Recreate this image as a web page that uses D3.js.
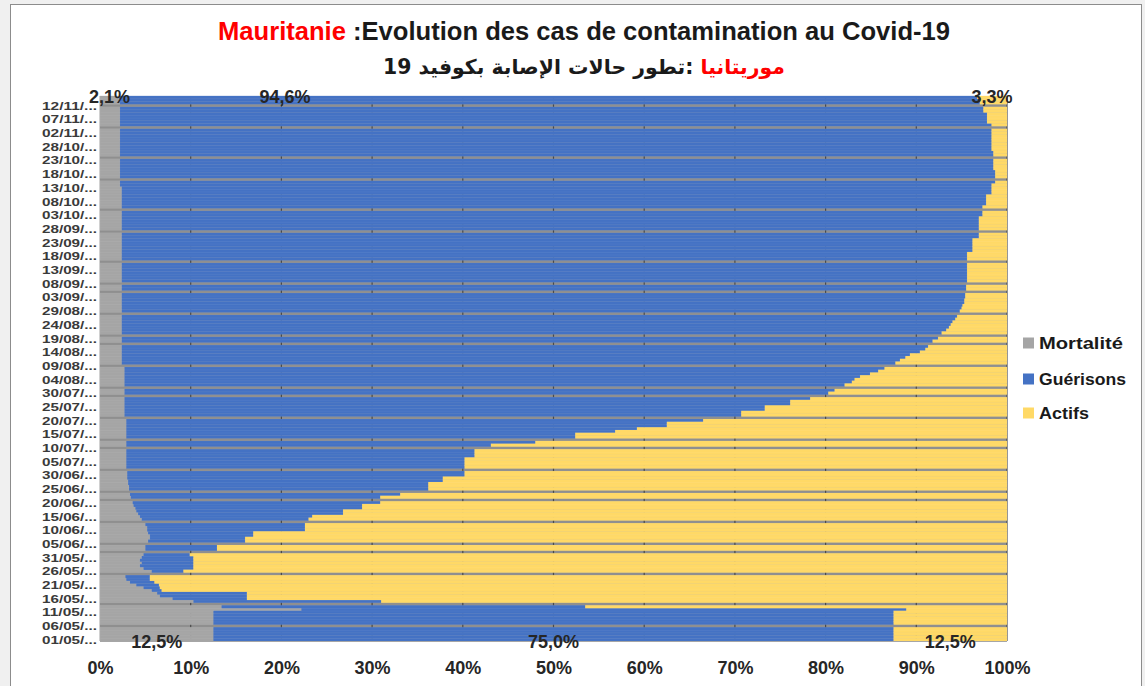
<!DOCTYPE html>
<html>
<head>
<meta charset="utf-8">
<script src="https://cdn.jsdelivr.net/npm/d3@7"></script>
<style>
  body { margin: 0; background: #f0f0f0; }
  svg { display: block; }
</style>
</head>
<body>
<svg id="chart" width="1145" height="686"></svg>
<script>
/* Mauritanie : évolution des cas Covid-19, barres empilées 100 % par jour.
 * Une ligne par jour du 01/05 au 15/11, null = jour sans donnée. */

var firstDay = '2020-05-01';
var seriesNames = ['Mortalité', 'Guérisons', 'Actifs'];
var seriesColors = ['#a5a5a5', '#4472c4', '#ffd966'];
var xTicks = [0, 10, 20, 30, 40, 50, 60, 70, 80, 90, 100];

var mortalite = [
  12.5,12.5,12.5,12.5,12.5,null,12.5,12.5,12.5,12.5,
  12.5,22.2,13.4,null,10.3,8.0,6.6,6.3,5.7,4.8,
  4.0,3.3,2.9,2.8,null,5.7,4.8,4.4,4.6,4.4,
  4.6,4.8,null,5.0,5.0,null,5.3,5.5,5.5,5.3,
  5.2,5.2,5.0,null,4.6,4.4,4.2,4.0,3.9,3.7,
  3.6,null,3.4,3.3,null,3.2,3.2,3.1,3.1,3.0,
  3.0,3.0,null,2.9,2.9,2.9,2.9,2.9,2.9,2.9,
  null,2.9,2.9,null,2.9,2.9,2.9,2.9,2.9,2.9,
  2.9,null,2.7,2.7,2.7,2.7,2.7,2.7,2.7,null,
  2.7,2.7,null,2.7,2.7,2.7,2.7,2.7,2.7,2.7,
  null,2.4,2.4,2.4,2.4,2.4,2.4,2.4,null,2.4,
  2.4,null,2.4,2.4,2.4,2.4,2.4,2.4,2.4,null,
  2.4,2.4,2.4,2.4,2.4,2.4,2.4,null,2.4,2.4,
  null,2.4,2.4,2.4,2.4,2.4,2.4,2.4,null,2.4,
  2.4,2.4,2.4,2.4,2.4,2.4,2.4,2.4,2.4,null,
  2.4,2.4,2.4,2.4,2.4,2.4,2.4,null,2.4,2.4,
  2.4,2.4,2.4,2.4,2.4,2.4,2.2,2.2,null,2.2,
  2.2,2.2,2.2,2.2,2.2,2.2,null,2.2,2.2,2.2,
  2.2,2.2,2.2,2.2,2.2,2.2,2.2,null,2.2,2.2,
  2.2,2.2,2.2,2.2,2.2,null,2.2,2.2,2.1
];

var guerisons = [
  75.0,75.0,75.0,75.0,75.0,null,75.0,75.0,75.0,75.0,
  75.0,66.7,40.1,null,20.7,8.2,9.6,9.9,1.1,1.8,
  2.5,2.7,2.6,2.7,null,3.5,5.5,5.9,5.7,5.9,
  5.7,5.1,null,7.9,7.9,null,10.7,10.5,11.4,11.6,
  17.4,17.4,17.6,null,18.4,19.0,22.6,22.8,25.0,25.2,
  27.3,null,27.5,29.8,null,33.0,33.0,33.1,34.7,34.8,
  37.2,37.2,null,37.3,37.3,37.3,37.3,38.4,38.4,38.4,
  null,40.2,45.1,null,49.5,49.5,53.9,56.3,59.6,59.6,
  63.6,null,68.0,68.0,70.6,70.6,73.4,73.4,75.6,null,
  77.6,78.3,null,79.4,80.2,80.5,81.1,82.2,83.1,83.8,
  null,85.3,85.8,86.4,86.9,88.0,88.6,88.9,null,89.4,
  90.0,null,90.4,90.9,91.2,91.4,91.6,91.9,92.1,null,
  92.4,92.6,92.7,92.9,92.9,93.0,93.0,null,93.1,93.1,
  null,93.2,93.2,93.2,93.2,93.2,93.2,93.2,null,93.2,
  93.2,93.2,93.8,93.8,93.8,93.8,93.8,94.5,94.5,null,
  94.5,94.5,94.5,94.5,94.5,94.9,94.9,null,94.9,95.3,
  95.3,95.3,95.3,95.9,95.9,95.9,96.1,96.5,null,96.5,
  96.5,96.5,96.3,96.3,96.3,96.3,null,96.3,96.3,96.1,
  96.1,96.1,96.1,96.1,96.1,96.1,96.1,null,96.1,95.6,
  95.6,95.6,95.6,95.2,95.2,null,94.8,94.8,94.6
];

var actifs = [
  12.5,12.5,12.5,12.5,12.5,null,12.5,12.5,12.5,12.5,
  12.5,11.1,46.5,null,69.0,83.8,83.8,83.8,93.2,93.4,
  93.5,94.0,94.5,94.5,null,90.8,89.7,89.7,89.7,89.7,
  89.7,90.1,null,87.1,87.1,null,84.0,84.0,83.1,83.1,
  77.4,77.4,77.4,null,77.0,76.6,73.2,73.2,71.1,71.1,
  69.1,null,69.1,66.9,null,63.8,63.8,63.8,62.2,62.2,
  59.8,59.8,null,59.8,59.8,59.8,59.8,58.7,58.7,58.7,
  null,56.9,52.0,null,47.6,47.6,43.2,40.8,37.5,37.5,
  33.5,null,29.3,29.3,26.7,26.7,23.9,23.9,21.7,null,
  19.7,19.0,null,17.9,17.1,16.8,16.2,15.1,14.2,13.5,
  null,12.3,11.8,11.2,10.7,9.6,9.0,8.7,null,8.2,
  7.6,null,7.2,6.7,6.4,6.2,6.0,5.7,5.5,null,
  5.2,5.0,4.9,4.7,4.7,4.6,4.6,null,4.5,4.5,
  null,4.4,4.4,4.4,4.4,4.4,4.4,4.4,null,4.4,
  4.4,4.4,3.8,3.8,3.8,3.8,3.8,3.1,3.1,null,
  3.1,3.1,3.1,3.1,3.1,2.7,2.7,null,2.7,2.3,
  2.3,2.3,2.3,1.7,1.7,1.7,1.7,1.3,null,1.3,
  1.3,1.3,1.5,1.5,1.5,1.5,null,1.5,1.5,1.7,
  1.7,1.7,1.7,1.7,1.7,1.7,1.7,null,1.7,2.2,
  2.2,2.2,2.2,2.6,2.6,null,3.0,3.0,3.3
];

var svg = d3.select('#chart');
var plotLeft = 100, plotRight = 1007, plotTop = 96, plotBottom = 641;
var FONT = '"Liberation Sans", Arial, sans-serif';

/* cadre du graphique */
svg.append('rect')
  .attr('x', 10.5).attr('y', 4.5)
  .attr('width', 1131).attr('height', 700)
  .attr('fill', '#ffffff')
  .attr('stroke', '#8c8c8c');

var start = d3.timeParse('%Y-%m-%d')(firstDay);
var days = d3.timeDay.range(start, d3.timeDay.offset(start, mortalite.length));
var fmtTick = d3.timeFormat('%d/%m/...');

var rows = days.map(function(d, i) {
  return { i: i, date: d, 'Mortalité': mortalite[i], 'Guérisons': guerisons[i], 'Actifs': actifs[i] };
});
var filled = rows.filter(function(r) { return r['Mortalité'] != null; });

var x = d3.scaleLinear().domain([0, 1]).range([plotLeft, plotRight]);
var y = d3.scaleBand().domain(d3.range(days.length)).range([plotBottom, plotTop]).padding(0);

var stacked = d3.stack().keys(seriesNames).offset(d3.stackOffsetExpand)(filled);

/* fond gris visible sur les jours manquants */
svg.append('rect')
  .attr('x', plotLeft).attr('y', plotTop)
  .attr('width', plotRight - plotLeft).attr('height', plotBottom - plotTop)
  .attr('fill', '#8f8f8f');

/* quadrillage vertical, visible seulement dans les trous */
svg.append('g')
  .selectAll('line')
  .data(xTicks.slice(1))
  .join('line')
  .attr('x1', function(d) { return x(d / 100); })
  .attr('x2', function(d) { return x(d / 100); })
  .attr('y1', plotTop).attr('y2', plotBottom)
  .attr('stroke', '#4a4a4a')
  .attr('stroke-width', 1.2);

var gBars = svg.append('g');
gBars.selectAll('g')
  .data(stacked)
  .join('g')
  .attr('fill', function(d, k) { return seriesColors[k]; })
  .selectAll('rect')
  .data(function(d) { return d; })
  .join('rect')
  .attr('x', function(d) { return x(d[0]); })
  .attr('y', function(d) { return y(d.data.i) - 0.15; })
  .attr('width', function(d) { return Math.max(0, x(d[1]) - x(d[0])); })
  .attr('height', y.bandwidth() + 0.3)
  .attr('stroke', '#ffffff')
  .attr('stroke-opacity', 0.1)
  .attr('stroke-width', 0.5);

/* axes */
svg.append('line')
  .attr('x1', plotLeft).attr('x2', plotRight)
  .attr('y1', plotBottom + 0.5).attr('y2', plotBottom + 0.5)
  .attr('stroke', '#a6a6a6');
svg.append('line')
  .attr('x1', plotLeft - 0.5).attr('x2', plotLeft - 0.5)
  .attr('y1', plotTop).attr('y2', plotBottom)
  .attr('stroke', '#d0d0d0');

var yTickIdx = d3.range(0, days.length, 5);
var yAxis = d3.axisLeft(y)
  .tickValues(yTickIdx)
  .tickSize(0)
  .tickPadding(3)
  .tickFormat(function(i) { return fmtTick(days[i]); });
var gy = svg.append('g')
  .attr('transform', 'translate(' + plotLeft + ',0)')
  .call(yAxis);
gy.select('.domain').remove();
gy.selectAll('text')
  .attr('font-family', FONT)
  .attr('font-weight', 'bold')
  .attr('font-size', '11.5px')
  .attr('textLength', 55)
  .attr('lengthAdjust', 'spacingAndGlyphs')
  .attr('fill', '#3a3a3a')
  .attr('dy', '0.36em');

var xAxis = d3.axisBottom(x)
  .tickValues(xTicks.map(function(t) { return t / 100; }))
  .tickSize(0)
  .tickPadding(20)
  .tickFormat(function(d) { return Math.round(d * 100) + '%'; });
var gx = svg.append('g')
  .attr('transform', 'translate(0,' + plotBottom + ')')
  .call(xAxis);
gx.select('.domain').remove();
gx.selectAll('text')
  .attr('font-family', FONT)
  .attr('font-weight', 'bold')
  .attr('font-size', '18px')
  .attr('fill', '#262626');

/* étiquettes de données : premier et dernier jour */
var fmtPct = function(v) { return v.toFixed(1).replace('.', ',') + '%'; };
var firstRow = filled[0], lastRow = filled[filled.length - 1];
var firstStack = stacked.map(function(s) { return s[0]; });
var lastStack = stacked.map(function(s) { return s[s.length - 1]; });

function dataLabel(cx, cy, text) {
  svg.append('text')
    .attr('x', cx)
    .attr('y', cy)
    .attr('dy', '0.36em')
    .attr('text-anchor', 'middle')
    .attr('font-family', FONT)
    .attr('font-weight', 'bold')
    .attr('font-size', '18px')
    .attr('fill', '#262626')
    .text(text);
}
seriesNames.forEach(function(name, k) {
  var s = firstStack[k];
  dataLabel(x((s[0] + s[1]) / 2), y(firstRow.i) + y.bandwidth() / 2 + 2, fmtPct(firstRow[name]));
});
seriesNames.forEach(function(name, k) {
  var s = lastStack[k];
  /* l'étiquette des guérisons a été déplacée à gauche dans l'original */
  var cx = name === 'Guérisons' ? x(0.204) : x((s[0] + s[1]) / 2);
  dataLabel(cx, y(lastRow.i) + y.bandwidth() / 2 - 1, fmtPct(lastRow[name]));
});

/* légende */
var legend = svg.append('g').attr('transform', 'translate(1023,0)');
var legendY = [343, 379, 413];
var legendW = [84, 87, 50];
seriesNames.forEach(function(name, k) {
  legend.append('rect')
    .attr('x', 0).attr('y', legendY[k] - 5.5)
    .attr('width', 11).attr('height', 11)
    .attr('fill', seriesColors[k]);
  legend.append('text')
    .attr('x', 16).attr('y', legendY[k])
    .attr('dy', '0.36em')
    .attr('font-family', FONT)
    .attr('font-weight', 'bold')
    .attr('font-size', '17px')
    .attr('fill', '#1a1a1a')
    .attr('textLength', legendW[k])
    .attr('lengthAdjust', 'spacingAndGlyphs')
    .text(name);
});

/* titres */
function fitWidth(sel, target) {
  var size = parseFloat(sel.attr('font-size'));
  var w = sel.node().getComputedTextLength();
  sel.attr('font-size', (size * target / w).toFixed(2) + 'px');
}

var title = svg.append('text')
  .attr('x', 584).attr('y', 40)
  .attr('text-anchor', 'middle')
  .attr('font-family', FONT)
  .attr('font-weight', 'bold')
  .attr('font-size', '22px')
  .attr('fill', '#1a1a1a');
title.append('tspan').attr('fill', '#ff0000').text('Mauritanie');
title.append('tspan').text(' :Evolution des cas de contamination au Covid-19');
fitWidth(title, 732);

var titleAr = svg.append('text')
  .attr('x', 584).attr('y', 74)
  .attr('text-anchor', 'middle')
  .attr('direction', 'rtl')
  .attr('font-family', '"DejaVu Sans", sans-serif')
  .attr('font-weight', 'bold')
  .attr('font-size', '21px')
  .attr('fill', '#1a1a1a');
titleAr.append('tspan').attr('fill', '#ff0000').text('موريتانيا');
titleAr.append('tspan').text(' :تطور حالات الإصابة بكوفيد 19');
fitWidth(titleAr, 402);
</script>
</body>
</html>
